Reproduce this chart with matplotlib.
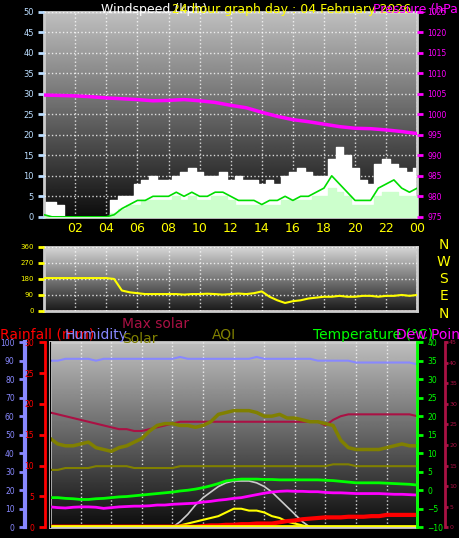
import numpy as np
import matplotlib.pyplot as plt

# ── data ──────────────────────────────────────────────────────────────
hours = np.arange(0, 24.5, 0.5)  # half-hour steps
gust = [3.5, 3.5, 3, 0, 0, 0, 0, 0, 0, 4, 5, 5, 8, 9, 10, 9, 9, 10, 11, 12,
        11, 10, 10, 11, 9, 10, 9, 9, 8, 9, 8, 10, 11, 12, 11, 10, 10, 14, 17,
        15, 12, 9, 8, 13, 14, 13, 12, 11, 12]
avg_wind = [0.5, 0, 0, 0, 0, 0, 0, 0, 0, 0.5, 2, 3, 4, 4, 5, 5, 5, 6, 5, 6,
            5, 5, 6, 6, 5, 4, 4, 4, 3, 4, 4, 5, 4, 5, 5, 6, 7, 10, 8,
            6, 4, 4, 4, 7, 8, 9, 7, 6, 7]
speed = [0, 0, 0, 0, 0, 0, 0, 0, 0, 1, 2, 3, 3, 4, 4, 4, 4, 5, 4, 5,
         4, 4, 5, 5, 4, 3, 3, 3, 3, 3, 3, 4, 4, 4, 4, 5, 5, 7, 6,
         5, 3, 3, 3, 5, 6, 6, 5, 5, 5]
pressure_h = np.arange(0, 25)
pressure = [1004.7, 1004.6, 1004.5, 1004.3, 1004.0, 1003.8, 1003.6, 1003.3,
            1003.4, 1003.6, 1003.3, 1002.9, 1002.2, 1001.6, 1000.5, 999.5,
            998.7, 998.2, 997.6, 997.0, 996.6, 996.5, 996.2, 995.8, 995.3]
direction = [185, 185, 185, 185, 185, 185, 185, 185, 185, 180, 115, 105, 100,
             95, 95, 95, 95, 95, 92, 95, 95, 97, 95, 92, 95, 98, 95, 100, 110,
             80, 60, 45, 55, 60, 70, 75, 80, 80, 85, 80, 80, 85, 85, 80, 85,
             85, 90, 85, 90]
humidity = [90, 90, 91, 91, 91, 91, 90, 91, 91, 91, 91, 91, 91, 91, 91, 91,
            91, 92, 91, 91, 91, 91, 91, 91, 91, 91, 91, 92, 91, 91, 91, 91,
            91, 91, 91, 90, 90, 90, 90, 90, 89, 89, 89, 89, 89, 89, 89, 89, 88]
temperature = [-2, -2, -2.2, -2.3, -2.5, -2.5, -2.3, -2.2, -2, -1.8, -1.7,
               -1.5, -1.3, -1.1, -0.9, -0.7, -0.5, -0.2, 0, 0.3, 0.7, 1.2,
               1.8, 2.5, 2.8, 3.0, 3.0, 3.0, 2.9, 2.9, 2.8, 2.8, 2.8, 2.8,
               2.8, 2.8, 2.7, 2.6, 2.4, 2.2, 2.0, 2.0, 2.0, 2.0, 1.9, 1.8,
               1.7, 1.6, 1.4]
dew_point = [-4.5, -4.7, -4.8, -4.6, -4.5, -4.5, -4.6, -4.9, -4.7, -4.5,
             -4.4, -4.3, -4.3, -4.2, -4.0, -4.0, -3.8, -3.7, -3.6, -3.5,
             -3.2, -3.0, -2.7, -2.5, -2.2, -2.0, -1.6, -1.2, -0.8, -0.5,
             -0.3, -0.2, -0.3, -0.3, -0.4, -0.4, -0.6, -0.7, -0.7, -0.8,
             -0.9, -0.9, -0.9, -0.9, -1.0, -1.1, -1.1, -1.2, -1.3]
rainfall = [0.1] * 20 + [0.2, 0.3, 0.3, 0.4, 0.4, 0.5, 0.5, 0.6, 0.6, 0.6,
                         0.8, 1.0, 1.1, 1.3, 1.4, 1.5, 1.6, 1.6, 1.6, 1.7,
                         1.7, 1.7, 1.8, 1.8, 2.0, 2.0, 2.0, 2.0, 2.0]
solar_max = [0] * 16 + [0, 3, 7, 12, 16, 19, 22, 24, 25, 25, 25, 24, 22, 19,
                        15, 11, 7, 3, 0] + [0] * 14
solar = [0] * 16 + [0, 1, 2, 3, 4, 5, 6, 8, 10, 10, 9, 9, 8, 6, 5, 3, 2, 1,
                    0] + [0] * 14
max_solar_line = [62, 61, 60, 59, 58, 57, 56, 55, 54, 53, 53, 52, 52, 53,
                  54, 55, 56, 57, 57, 57, 57, 57, 57, 57, 57, 57, 57, 57, 57,
                  57, 57, 57, 57, 57, 57, 57, 55, 58, 60, 61, 61, 61, 61,
                  61, 61, 61, 61, 61, 60]
aqi = [48, 45, 44, 44, 45, 46, 43, 42, 41, 43, 44, 46, 48, 52, 55, 56, 56,
       55, 55, 54, 55, 57, 61, 62, 63, 63, 63, 62, 60, 60, 61, 59, 59, 58,
       57, 57, 56, 55, 47, 43, 42, 42, 42, 42, 43, 44, 45, 44, 44]
aqi_base = [31, 31, 32, 32, 32, 32, 33, 33, 33, 33, 33, 32, 32, 32, 32, 32,
            32, 33, 33, 33, 33, 33, 33, 33, 33, 33, 33, 33, 33, 33, 33, 33,
            33, 33, 33, 33, 33, 34, 34, 34, 33, 33, 33, 33, 33, 33, 33, 33, 33]
hour_ticks = [2, 4, 6, 8, 10, 12, 14, 16, 18, 20, 22, 24]
hour_labels = ['02', '04', '06', '08', '10', '12', '14', '16', '18', '20', '22', '00']

plt.rcParams['font.family'] = ['DejaVu Sans']
fig = plt.figure(figsize=(4.6, 5.38), dpi=100, facecolor='black')


def grey_bg(ax, top=0.75, bottom=0.05):
    grad = np.linspace(top, bottom, 256).reshape(-1, 1)
    ax.imshow(grad, cmap='gray', vmin=0, vmax=1, aspect='auto',
              extent=[0, 1, 0, 1], transform=ax.transAxes, zorder=0)
    ax.set_facecolor('black')
    for s in ax.spines.values():
        s.set_color('#cccccc')
        s.set_linewidth(2)
    ax.grid(True, color='white', linestyle=':', linewidth=1, alpha=0.8)
    ax.set_axisbelow(False)


def ticks_col(ax, axis, color, size=6):
    ax.tick_params(axis=axis, colors=color, labelsize=size, length=4, width=2)


# ── top panel: wind + pressure ────────────────────────────────────────
ax1 = fig.add_axes([0.096, 0.597, 0.811, 0.381])
grey_bg(ax1)
ax1.fill_between(hours, gust, color='white', step='mid', zorder=2)
ax1.fill_between(hours, speed, color='#ccffcc', step='mid', zorder=3)
ax1.plot(hours, avg_wind, color='#00dd00', lw=1.2, zorder=4)
ax1.set_xlim(0, 24)
ax1.set_ylim(0, 50)
ax1.set_yticks(range(0, 51, 5))
ax1.set_xticks(hour_ticks)
ax1.set_xticklabels(hour_labels)
ticks_col(ax1, 'y', '#bbddff')
ax1.tick_params(axis='x', colors='yellow', labelsize=9, length=0, pad=4)
ax1p = ax1.twinx()
ax1p.plot(pressure_h, pressure, color='#ff00ff', lw=2.5)
ax1p.set_ylim(975, 1025)
ax1p.set_yticks(range(975, 1026, 5))
ticks_col(ax1p, 'y', '#ff00ff', 5.5)
for s in ax1p.spines.values():
    s.set_visible(False)
fig.text(0.22, 0.995, 'Windspeed (kph)', color='white', fontsize=9, va='top')
fig.text(0.375, 0.995, '24 hour graph day : 04 February 2026', color='yellow',
         fontsize=9, va='top')
fig.text(0.81, 0.995, 'Pressure (hPa)', color='#ff00ff', fontsize=9, va='top')

# ── middle panel: wind direction ──────────────────────────────────────
ax2 = fig.add_axes([0.096, 0.422, 0.811, 0.119])
grey_bg(ax2, 0.85, 0.1)
ax2.plot(hours, direction, color='yellow', lw=1.5, zorder=3)
ax2.set_xlim(0, 24)
ax2.set_ylim(0, 360)
ax2.set_yticks([0, 90, 180, 270, 360])
ax2.set_xticks(hour_ticks)
ax2.set_xticklabels([])
ticks_col(ax2, 'y', 'yellow', 5)
ax2.tick_params(axis='x', length=0)
ax2.axhline(0, color='red', lw=1)
for i, c in enumerate(['N', 'W', 'S', 'E', 'N']):
    fig.text(0.965, 0.545 - i * 0.032, c, color='yellow', fontsize=10,
             ha='center', va='center')

# ── bottom panel: humidity, temperature, solar, rain, AQI ─────────────
ax3 = fig.add_axes([0.109, 0.02, 0.798, 0.344])
grey_bg(ax3)
ax3.set_xlim(0, 24)
ax3.set_ylim(0, 100)
ax3.set_xticks(hour_ticks)
ax3.set_xticklabels([])
ax3.tick_params(axis='x', length=0)
ax3.set_yticks([])
ax3.plot(hours, humidity, color='#8888ff', lw=1.5, zorder=3)
ax3.plot(hours, max_solar_line, color='#aa1144', lw=1.5, zorder=3)
ax3.plot(hours, aqi, color='#808000', lw=2.5, zorder=3)
ax3.plot(hours, aqi_base, color='#808000', lw=1.5, zorder=3)
ax3.plot(hours, solar_max, color='#cccccc', lw=1.2, zorder=3)
ax3.plot(hours, solar, color='yellow', lw=1.5, zorder=4)
ax3.plot(hours, [(t + 10) * 2 for t in temperature], color='#00ff00', lw=2, zorder=4)
ax3.plot(hours, [(t + 10) * 2 for t in dew_point], color='#ff00ff', lw=2, zorder=4)
ax3.plot(hours, [r * 100 / 30 for r in rainfall], color='red', lw=3, zorder=5)
ax3.axhline(0.5, color='yellow', lw=2, zorder=5)

# humidity axis (far left)
axh = ax3.twinx()
axh.yaxis.tick_left()
axh.spines['left'].set_position(('outward', 18))
axh.spines['left'].set_color('#8888ff')
axh.spines['left'].set_linewidth(3)
axh.set_ylim(0, 100)
axh.set_yticks(range(0, 101, 10))
ticks_col(axh, 'y', '#8888ff', 5.5)
# rain axis
axr = ax3.twinx()
axr.yaxis.tick_left()
axr.spines['left'].set_position(('outward', 4))
axr.spines['left'].set_color('red')
axr.spines['left'].set_linewidth(2)
axr.set_ylim(0, 30)
axr.set_yticks(range(0, 31, 5))
ticks_col(axr, 'y', 'red', 5.5)
# temperature axis
axt = ax3.twinx()
axt.spines['right'].set_color('#00ff00')
axt.spines['right'].set_linewidth(2)
axt.set_ylim(-10, 40)
axt.set_yticks(range(-10, 41, 5))
ticks_col(axt, 'y', '#00ff00', 5.5)
# solar axis
axs = ax3.twinx()
axs.spines['right'].set_position(('outward', 20))
axs.spines['right'].set_color('#aa1144')
axs.spines['right'].set_linewidth(2)
axs.set_ylim(0, 45)
axs.set_yticks(range(0, 46, 5))
axs.tick_params(axis='y', colors='#aa1144', labelsize=4.5, length=2, width=2, pad=1)
for a in (axh, axr, axt, axs):
    for k in ('top', 'bottom'):
        a.spines[k].set_visible(False)

fig.text(0.0, 0.37, 'Rainfall (mm)', color='red', fontsize=10)
fig.text(0.14, 0.37, 'Humidity', color='#8888ff', fontsize=10)
fig.text(0.265, 0.39, 'Max solar', color='#aa1144', fontsize=10)
fig.text(0.265, 0.363, 'Solar', color='#808000', fontsize=10)
fig.text(0.46, 0.37, 'AQI', color='#808000', fontsize=10)
fig.text(0.68, 0.37, 'Temperature (°C)', color='#00ff00', fontsize=10)
fig.text(0.86, 0.37, 'Dew Point', color='#ff00ff', fontsize=10)

fig.savefig('out.png', dpi=100, facecolor='black')
